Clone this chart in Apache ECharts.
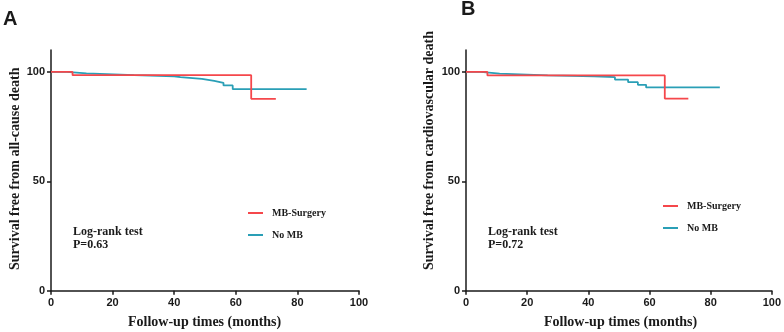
<!DOCTYPE html>
<html>
<head>
<meta charset="utf-8">
<script src="https://cdn.jsdelivr.net/npm/echarts@6/dist/echarts.min.js"></script>
<style>
  html, body { margin: 0; padding: 0; background: #fff; }
  #chart { width: 784px; height: 332px; }
</style>
</head>
<body>
<div id="chart"></div>
<script>
// tick labels
const xTicks = [0, 20, 40, 60, 80, 100]
const yTicks = [0, 50, 100]

// panel A: all-cause death
const aSurgeryTime = [0, 7, 65, 73]
const aSurgerySurv = [100, 98.5, 87.7, 87.7]
const aNoMbTime = [0, 5, 11.5, 27, 40, 42, 49, 53, 56, 59, 83]
const aNoMbSurv = [100, 99.3, 98.5, 98.0, 97.6, 96.8, 95.9, 95.0, 93.8, 92.1, 92.1]

// panel B: cardiovascular death
const bSurgeryTime = [0, 7, 65, 72.7]
const bSurgerySurv = [100, 98.4, 87.8, 87.8]
const bNoMbTime = [0, 4.8, 11, 26.7, 41.9, 48.7, 53, 56.2, 58.9, 83]
const bNoMbSurv = [100, 99.2, 98.4, 98.0, 97.6, 96.5, 95.3, 94.1, 92.9, 92.9]

const RED = '#f5474b'
const BLUE = '#2a9fb6'
const serif = 'Liberation Serif'
const sans = 'Liberation Sans'

const zip = (t, s) => t.map((v, i) => [v, s[i]])

function xAxis(gridIndex) {
  return {
    type: 'value',
    gridIndex,
    min: 0,
    max: 100,
    interval: 20,
    splitLine: { show: false },
    axisLine: { lineStyle: { color: '#1a1a1a', width: 1.5 } },
    axisTick: { length: 4, lineStyle: { color: '#1a1a1a', width: 1.5 } },
    axisLabel: {
      customValues: xTicks,
      color: '#1a1a1a',
      fontFamily: sans,
      fontWeight: 'bold',
      fontSize: 11,
      margin: 7
    }
  }
}

function yAxis(gridIndex) {
  return {
    type: 'value',
    gridIndex,
    min: 0,
    max: 110,
    interval: 50,
    splitLine: { show: false },
    axisLine: { show: true, lineStyle: { color: '#1a1a1a', width: 1.5 } },
    axisTick: { show: true, customValues: yTicks, length: 4, lineStyle: { color: '#1a1a1a', width: 1.5 } },
    axisLabel: {
      customValues: yTicks,
      color: '#1a1a1a',
      fontFamily: sans,
      fontWeight: 'bold',
      fontSize: 11,
      margin: 6
    }
  }
}

function km(name, data, color, idx, z) {
  return {
    name,
    type: 'line',
    step: 'end',
    xAxisIndex: idx,
    yAxisIndex: idx,
    data,
    z,
    symbol: 'none',
    color,
    lineStyle: { color, width: 1.8 },
    animation: false
  }
}

function legend(left, top) {
  return {
    data: ['MB-Surgery', 'No MB'],
    orient: 'vertical',
    left,
    top,
    icon: 'rect',
    itemWidth: 15,
    itemHeight: 2,
    itemGap: 12,
    selectedMode: false,
    textStyle: {
      fontFamily: serif,
      fontWeight: 'bold',
      fontSize: 10,
      color: '#1a1a1a',
      padding: [0, 0, 0, 4]
    }
  }
}

function text(left, top, str, size, font) {
  return {
    type: 'text',
    left,
    top,
    style: {
      text: str,
      fontFamily: font,
      fontWeight: 'bold',
      fontSize: size,
      fill: '#1a1a1a'
    }
  }
}

function yTitle(x, yBottom, str) {
  return {
    type: 'text',
    x,
    y: yBottom,
    rotation: Math.PI / 2,
    style: {
      text: str,
      fontFamily: serif,
      fontWeight: 'bold',
      fontSize: 14,
      fill: '#1a1a1a',
      align: 'left',
      verticalAlign: 'middle'
    }
  }
}

const chart = echarts.init(document.getElementById('chart'))
chart.setOption({
  animation: false,
  grid: [
    { left: 51, top: 50, width: 308, height: 240.7 },
    { left: 466, top: 50, width: 308, height: 240.7 }
  ],
  xAxis: [xAxis(0), xAxis(1)],
  yAxis: [yAxis(0), yAxis(1)],
  legend: [legend(243, 203), legend(658, 196)],
  series: [
    km('MB-Surgery', zip(aSurgeryTime, aSurgerySurv), RED, 0, 3),
    km('No MB', zip(aNoMbTime, aNoMbSurv), BLUE, 0, 2),
    km('MB-Surgery', zip(bSurgeryTime, bSurgerySurv), RED, 1, 3),
    km('No MB', zip(bNoMbTime, bNoMbSurv), BLUE, 1, 2)
  ],
  graphic: [
    text(3, 9, 'A', 20, sans),
    text(461, -1, 'B', 20, sans),
    text(73, 226, 'Log-rank test', 12, serif),
    text(73, 239, 'P=0.63', 12, serif),
    text(488, 226, 'Log-rank test', 12, serif),
    text(488, 239, 'P=0.72', 12, serif),
    text(128, 315, 'Follow-up times (months)', 14, serif),
    text(544, 315, 'Follow-up times (months)', 14, serif),
    yTitle(15, 270, 'Survival free from all-cause death'),
    yTitle(429, 270, 'Survival free from cardiovascular death')
  ]
})
</script>
</body>
</html>
